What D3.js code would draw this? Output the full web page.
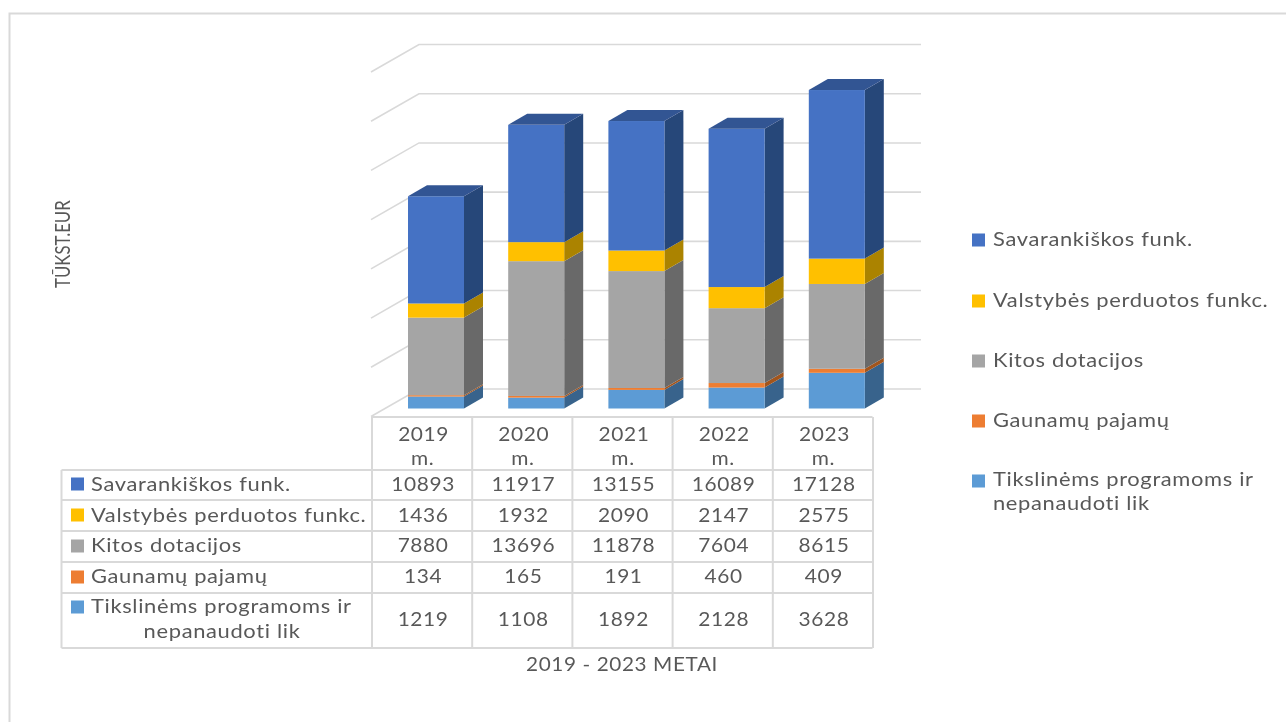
<!DOCTYPE html>
<html><head><meta charset="utf-8">
<script src="https://cdn.jsdelivr.net/npm/d3@7"></script>
<style>html,body{margin:0;background:#fff;overflow:hidden}svg{display:block}text{font-family:Lato,"Open Sans",sans-serif;fill:#595959}</style>
</head><body><svg id="c" width="1286" height="722"></svg>
<script>
const years = ["2019","2020","2021","2022","2023"];
const seriesNames = ["Tikslinėms programoms ir nepanaudoti lik","Gaunamų pajamų","Kitos dotacijos","Valstybės perduotos funkc.","Savarankiškos funk."];
const tikslines = [1219,1108,1892,2128,3628];
const gaunamu = [134,165,191,460,409];
const kitos = [7880,13696,11878,7604,8615];
const valstybes = [1436,1932,2090,2147,2575];
const savarankiskos = [10893,11917,13155,16089,17128];
const frontColors = ["#5b9bd5","#ed7d31","#a5a5a5","#ffc000","#4472c4"];
const sideColors = ["#37638c","#a2551f","#696969","#ab8300","#284679"];
const topColor = "#335593";
const yTitle = "TŪKST.EUR", xTitle = "2019 - 2023 METAI", yearSuffix = "m.";

const allValues = [tikslines,gaunamu,kitos,valstybes,savarankiskos];
const rows = years.map((yr,i)=>{const o={yr};seriesNames.forEach((n,k)=>o[n]=allValues[k][i]);return o;});
const stacked = d3.stack().keys(seriesNames)(rows);

const svg = d3.select("#c");
const defs = svg.append("defs");
defs.append("filter").attr("id","soft").attr("x","-2%").attr("y","-2%").attr("width","104%").attr("height","104%")
  .append("feGaussianBlur").attr("stdDeviation",0.5);
const root = svg.append("g").attr("filter","url(#soft)");

const grid="#d9d9d9";
root.append("path").attr("d","M9.5,722V13.5H1286").attr("fill","none").attr("stroke",grid).attr("stroke-width",2);

const tableX = d3.scaleBand().domain(years).range([372,873]);
const y = d3.scaleLinear().domain([0,35000]).range([389,44.5]);
const wallDx=48, wallDy=27.5, barDx=19, barDy=11, barFrontOffset=19.5, barW=56;

y.ticks(7).forEach(t=>{
  root.append("path").attr("d",`M${372-1},${y(t)+wallDy}L${372-1+wallDx},${y(t)}H921`)
    .attr("fill","none").attr("stroke",grid).attr("stroke-width",1.6);
});

years.forEach((yr,i)=>{
  const x0 = tableX(yr)+36;
  const g = root.append("g");
  stacked.forEach((s,k)=>{
    const [a,b]=s[i];
    const yb=y(a)+barFrontOffset, yt=y(b)+barFrontOffset;
    g.append("path").attr("fill",sideColors[k])
      .attr("d",`M${x0+barW},${yb}L${x0+barW+barDx},${yb-barDy}V${yt-barDy}L${x0+barW},${yt}Z`);
    g.append("rect").attr("x",x0).attr("y",yt).attr("width",barW).attr("height",yb-yt).attr("fill",frontColors[k]);
    if(k===stacked.length-1){
      g.append("path").attr("fill",topColor)
       .attr("d",`M${x0},${yt}L${x0+barDx},${yt-barDy}H${x0+barW+barDx}L${x0+barW},${yt}Z`);
    }
  });
});

const rowLines=[470,500,531,562,593,648];
const L=61.5, C=372, R=872.5;
const line=(x1,y1,x2,y2)=>root.append("line").attr("x1",x1).attr("y1",y1).attr("x2",x2).attr("y2",y2).attr("stroke",grid).attr("stroke-width",2);
line(C,417,R,417);
rowLines.forEach(v=>line(L,v,R,v));
line(L,470,L,648);
line(C,417,C,648);
years.forEach(yr=>line(tableX(yr)+tableX.bandwidth(),417,tableX(yr)+tableX.bandwidth(),648));

const fs=18.5, ls=0.55, sxText=1.185, sxNum=1.13;
const label=(s,x,yy,anchor="start",sx=sxText)=>root.append("text").text(s)
  .attr("transform",`translate(${x},${yy}) scale(${sx},1)`).attr("text-anchor",anchor)
  .attr("font-size",fs).attr("letter-spacing",ls);

years.forEach(yr=>{
  const cx=tableX(yr)+tableX.bandwidth()/2+1.5;
  label(yr,cx,441,"middle",sxNum);
  label(yearSuffix,cx-1,465,"middle",sxNum);
});
const order=[4,3,2,1,0];
const textY=[491,522,552,583,626];
const keyY=[484,515,546,577,607];
order.forEach((k,ri)=>{
  root.append("rect").attr("x",71).attr("y",keyY[ri]-6.5).attr("width",13).attr("height",13).attr("fill",frontColors[k]);
  years.forEach((yr,i)=>label(allValues[k][i],tableX(yr)+tableX.bandwidth()/2+1,textY[ri],"middle",sxNum));
  if(k===0){
    label("Tikslinėms programoms ir",91,613);
    label("nepanaudoti lik",222,638,"middle");
  } else label(seriesNames[k],91,textY[ri]);
});

const legY=[240,301,361,421,481];
order.forEach((k,ri)=>{
  root.append("rect").attr("x",972).attr("y",legY[ri]-6.5).attr("width",13).attr("height",13).attr("fill",frontColors[k]);
  if(k===0){
    label("Tikslinėms programoms ir",993,486);
    label("nepanaudoti lik",993,510);
  } else label(seriesNames[k],993,legY[ri]+6);
});

label(xTitle,622,671,"middle",1.12);
root.append("text").text(yTitle).attr("transform","translate(70,288) rotate(-90) scale(0.84,1.05)")
  .attr("font-size",20);
</script></body></html>
